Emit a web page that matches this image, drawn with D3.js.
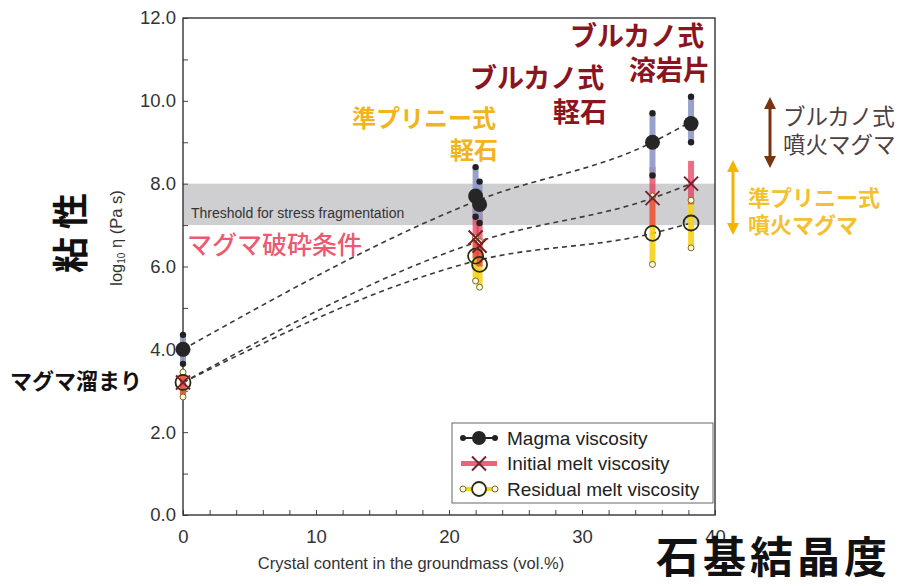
<!DOCTYPE html>
<html>
<head>
<meta charset="utf-8">
<script src="https://cdn.jsdelivr.net/npm/d3@7"></script>
<style>
  body { margin: 0; background: #fff; }
  svg { display: block; }
  .jp { font-family: "Noto Sans CJK JP", "Noto Sans", sans-serif; }
  .lat { font-family: "Liberation Sans", Arial, sans-serif; }
</style>
</head>
<body>
<div id="chart"></div>
<script>
const WIDTH = 905;
const HEIGHT = 586;

// samples: groundmass crystal content (vol.%)
const crystal = [0, 22.0, 22.3, 35.3, 38.2];
const magma = [4.0, 7.7, 7.5, 9.0, 9.45];
const magmaHi = [4.35, 8.4, 8.05, 9.7, 10.1];
const magmaLo = [3.65, 7.2, 7.05, 8.2, 9.0];
const initial = [3.2, 6.7, 6.5, 7.65, 8.0];
const initialHi = [3.5, 7.4, 7.3, 8.4, 8.55];
const initialLo = [2.9, 6.2, 6.0, 7.0, 7.5];
const residual = [3.2, 6.25, 6.05, 6.8, 7.05];
const residualHi = [3.45, 6.7, 6.6, 7.7, 7.6];
const residualLo = [2.85, 5.65, 5.5, 6.05, 6.45];

// dashed trend curves
const fitX = [0, 22.2, 35.3, 38.2];
const fitMagma = [4.0, 7.6, 9.0, 9.5];
const fitInitial = [3.2, 6.6, 7.65, 8.0];
const fitResidual = [3.2, 6.15, 6.8, 7.05];

const threshold = [7.0, 8.0];
const xTicks = d3.range(0, 41, 2);
const yTicks = d3.range(0, 12.1, 1);
const legendLabels = ['Magma viscosity', 'Initial melt viscosity', 'Residual melt viscosity'];

const C_MAGMA = '#8f98c6';
const C_INIT = '#e4304f';
const C_RES = '#f4d31c';

const svg = d3.select('#chart').append('svg')
  .attr('width', WIDTH)
  .attr('height', HEIGHT);

const x = d3.scaleLinear().domain([0, 40]).range([183, 715]);
const y = d3.scaleLinear().domain([0, 12]).range([515, 18]);

// threshold band
svg.append('rect')
  .attr('x', x(0))
  .attr('y', y(threshold[1]))
  .attr('width', x(40) - x(0))
  .attr('height', y(threshold[0]) - y(threshold[1]))
  .attr('fill', '#cfcfd2');

svg.append('text')
  .attr('class', 'lat')
  .attr('x', 191)
  .attr('y', 218)
  .attr('font-size', 14)
  .attr('fill', '#333')
  .text('Threshold for stress fragmentation');

svg.append('text')
  .attr('class', 'jp')
  .attr('x', 187)
  .attr('y', 254)
  .attr('font-size', 25)
  .attr('font-weight', 500)
  .attr('fill', '#ec5a72')
  .text('マグマ破砕条件');

// axes
const yAxis = svg.append('g')
  .attr('transform', `translate(${x(0)},0)`)
  .call(d3.axisLeft(y).tickValues(yTicks).tickSizeInner(-5).tickSizeOuter(0).tickPadding(7)
    .tickFormat(d => (d % 2 === 0 ? d3.format('.1f')(d) : '')));

const xAxis = svg.append('g')
  .attr('transform', `translate(0,${y(0)})`)
  .call(d3.axisBottom(x).tickValues(xTicks).tickSizeInner(-5).tickSizeOuter(0).tickPadding(15)
    .tickFormat(d => (d % 10 === 0 ? d : '')));

[yAxis, xAxis].forEach(ax => {
  ax.select('.domain').remove();
  ax.selectAll('line').attr('stroke', '#444');
  ax.selectAll('text')
    .attr('class', 'lat')
    .attr('font-size', 18.5)
    .attr('fill', '#333');
});

svg.append('rect')
  .attr('x', x(0))
  .attr('y', y(12))
  .attr('width', x(40) - x(0))
  .attr('height', y(0) - y(12))
  .attr('fill', 'none')
  .attr('stroke', '#333')
  .attr('stroke-width', 1.4);

// dashed trend curves
const line = d3.line()
  .x((d, i) => x(fitX[i]))
  .y(d => y(d))
  .curve(d3.curveMonotoneX);

[fitMagma, fitInitial, fitResidual].forEach(s => {
  svg.append('path')
    .attr('d', line(s))
    .attr('fill', 'none')
    .attr('stroke', '#3a3a3a')
    .attr('stroke-width', 1.6)
    .attr('stroke-dasharray', '5,4');
});

// error bars
function bars(lo, hi, color, op) {
  svg.append('g').selectAll('line')
    .data(crystal)
    .join('line')
    .attr('x1', d => x(d))
    .attr('x2', d => x(d))
    .attr('y1', (d, i) => y(lo[i]))
    .attr('y2', (d, i) => y(hi[i]))
    .attr('stroke', color)
    .attr('stroke-width', 6)
    .attr('stroke-opacity', op);
}
bars(residualLo, residualHi, C_RES, 0.9);
bars(initialLo, initialHi, C_INIT, 0.7);
bars(magmaLo, magmaHi, C_MAGMA, 0.9);

// end markers
const ends = svg.append('g');
crystal.forEach((c, i) => {
  [magmaLo[i], magmaHi[i]].forEach(v => {
    ends.append('circle').attr('cx', x(c)).attr('cy', y(v)).attr('r', 3.2).attr('fill', '#222');
  });
  [residualLo[i], residualHi[i]].forEach(v => {
    ends.append('circle').attr('cx', x(c)).attr('cy', y(v)).attr('r', 3)
      .attr('fill', '#fffbe0').attr('stroke', '#7a6a20').attr('stroke-width', 1);
  });
});

// main markers
const marks = svg.append('g');
crystal.forEach((c, i) => {
  const cx = x(c);
  const ry = y(residual[i]);
  marks.append('circle')
    .attr('cx', cx).attr('cy', ry).attr('r', 7.5)
    .attr('fill', 'none').attr('stroke', '#2e2a10').attr('stroke-width', 1.8);
  const iy = y(initial[i]);
  marks.append('path')
    .attr('d', `M${cx - 7},${iy - 7}L${cx + 7},${iy + 7}M${cx - 7},${iy + 7}L${cx + 7},${iy - 7}`)
    .attr('stroke', '#7a1f2e').attr('stroke-width', 2);
  marks.append('circle')
    .attr('cx', cx).attr('cy', y(magma[i])).attr('r', 7.5)
    .attr('fill', '#262626');
});

// legend
const lg = svg.append('g').attr('transform', 'translate(452,423)');
lg.append('rect')
  .attr('width', 261).attr('height', 80)
  .attr('fill', '#fff').attr('stroke', '#666').attr('stroke-width', 1);

legendLabels.forEach((lab, i) => {
  const row = lg.append('g').attr('transform', `translate(0,${15 + i * 25.5})`);
  if (i === 0) {
    row.append('line').attr('x1', 10).attr('x2', 44).attr('stroke', '#222').attr('stroke-width', 2);
    row.append('circle').attr('cx', 11).attr('r', 3).attr('fill', '#222');
    row.append('circle').attr('cx', 43).attr('r', 3).attr('fill', '#222');
    row.append('circle').attr('cx', 27).attr('r', 7).attr('fill', '#262626');
  } else if (i === 1) {
    row.append('line').attr('x1', 9).attr('x2', 45).attr('stroke', C_INIT).attr('stroke-width', 5).attr('stroke-opacity', 0.75);
    row.append('path').attr('d', 'M20,-7L34,7M20,7L34,-7').attr('stroke', '#7a1f2e').attr('stroke-width', 2);
  } else {
    row.append('line').attr('x1', 10).attr('x2', 44).attr('stroke', C_RES).attr('stroke-width', 4);
    row.append('circle').attr('cx', 11).attr('r', 3).attr('fill', '#fffbe0').attr('stroke', '#7a6a20');
    row.append('circle').attr('cx', 43).attr('r', 3).attr('fill', '#fffbe0').attr('stroke', '#7a6a20');
    row.append('circle').attr('cx', 27).attr('r', 7).attr('fill', '#fff').attr('stroke', '#2e2a10').attr('stroke-width', 1.8);
  }
  row.append('text')
    .attr('class', 'lat')
    .attr('x', 55)
    .attr('y', 6.5)
    .attr('font-size', 19)
    .attr('fill', '#222')
    .text(lab);
});

// axis titles
svg.append('text')
  .attr('class', 'lat')
  .attr('x', 411)
  .attr('y', 569)
  .attr('text-anchor', 'middle')
  .attr('font-size', 16.5)
  .attr('fill', '#333')
  .text('Crystal content in the groundmass (vol.%)');

svg.append('text')
  .attr('class', 'jp')
  .attr('x', 656)
  .attr('y', 573)
  .attr('font-size', 43)
  .attr('font-weight', 700)
  .attr('letter-spacing', 4)
  .attr('fill', '#111')
  .text('石基結晶度');

svg.append('text')
  .attr('class', 'lat')
  .attr('transform', 'translate(122,238) rotate(-90)')
  .attr('text-anchor', 'middle')
  .attr('font-size', 16.5)
  .attr('fill', '#333')
  .html('log<tspan font-size="10" dy="3">10</tspan><tspan dy="-3"> η (Pa s)</tspan>');

svg.append('text')
  .attr('class', 'jp')
  .attr('transform', 'translate(84,233) rotate(-90)')
  .attr('text-anchor', 'middle')
  .attr('font-size', 36)
  .attr('font-weight', 700)
  .attr('fill', '#111')
  .text('粘 性');

svg.append('text')
  .attr('class', 'jp')
  .attr('x', 10)
  .attr('y', 389)
  .attr('font-size', 22)
  .attr('font-weight', 700)
  .attr('fill', '#111')
  .text('マグマ溜まり');

// eruption-style annotations (two lines each)
const notes = [
  { l1: 'ブルカノ式', l2: '溶岩片', x: 570, x2: 629, y: 46, dy: 34, c: '#8a1420', s: 27 },
  { l1: 'ブルカノ式', l2: '軽石', x: 470, x2: 553, y: 88, dy: 34, c: '#8a1420', s: 27 },
  { l1: '準プリニー式', l2: '軽石', x: 352, x2: 450, y: 127, dy: 32, c: '#f1b41c', s: 24 },
  { l1: 'ブルカノ式', l2: '噴火マグマ', x: 783, x2: 783, y: 125, dy: 28, c: '#4e4040', s: 22.5, w: 400 },
  { l1: '準プリニー式', l2: '噴火マグマ', x: 748, x2: 748, y: 206, dy: 27, c: '#f3c030', s: 22 },
];
const nt = svg.append('g').selectAll('text')
  .data(notes)
  .join('text')
  .attr('class', 'jp')
  .attr('font-size', d => d.s)
  .attr('font-weight', d => d.w || 700)
  .attr('fill', d => d.c);
nt.append('tspan').attr('x', d => d.x).attr('y', d => d.y).text(d => d.l1);
nt.append('tspan').attr('x', d => d.x2).attr('y', d => d.y + d.dy).text(d => d.l2);

// double-headed arrows
function arrow(ax, y1, y2, color) {
  svg.append('line')
    .attr('x1', ax).attr('x2', ax).attr('y1', y1 + 8).attr('y2', y2 - 8)
    .attr('stroke', color).attr('stroke-width', 3);
  svg.append('path')
    .attr('d', `M${ax},${y1}L${ax - 6},${y1 + 12}L${ax + 6},${y1 + 12}Z M${ax},${y2}L${ax - 6},${y2 - 12}L${ax + 6},${y2 - 12}Z`)
    .attr('fill', color);
}
arrow(770, 97, 168, '#7a3510');
arrow(733, 160, 235, '#f5b400');
</script>
</body>
</html>
